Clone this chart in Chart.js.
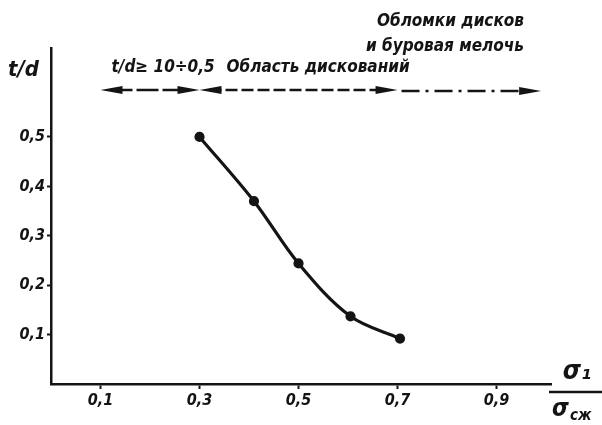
<!DOCTYPE html>
<html>
<head>
<meta charset="utf-8">
<script src="https://cdn.jsdelivr.net/npm/chart.js@4.4.1/dist/chart.umd.min.js"></script>
<style>
  html, body { margin: 0; padding: 0; background: #fff; }
  #wrap { width: 602px; height: 425px; }
</style>
</head>
<body>
<div id="wrap"><canvas id="myChart" width="602" height="425"></canvas></div>
<script>
//Data
const xTicks = [0.1, 0.3, 0.5, 0.7, 0.9];
const yTicks = [0.1, 0.2, 0.3, 0.4, 0.5];
const stressRatio = [0.30, 0.41, 0.50, 0.605, 0.705];   // σ1 / σсж
const tdRatio = [0.50, 0.37, 0.244, 0.137, 0.092];      // t/d
//Regions along the top arrow
const regionEdges = [0.1, 0.3, 0.7, 0.99];
const arrowLevel = 0.595;
const regionLabels = ['t/d≥ 10÷0,5', 'Область дискований', 'Обломки дисков', 'и буровая мелочь'];

const INK = '#141414';
const FONT = '"DejaVu Sans Condensed", "DejaVu Sans", sans-serif';

function commaNum(v) {
  return String(v).replace('.', ',');
}

function arrowHead(ctx, tipX, y, dir) {
  // dir = 1 points right, -1 points left
  ctx.beginPath();
  ctx.moveTo(tipX, y);
  ctx.lineTo(tipX - dir * 22, y - 4);
  ctx.lineTo(tipX - dir * 22, y + 4);
  ctx.closePath();
  ctx.fill();
}

//Arrows, region texts and axis titles
const annotations = {
  id: 'annotations',
  afterDraw(chart) {
    const {ctx, scales: {x, y}} = chart;
    const ay = y.getPixelForValue(arrowLevel);
    const px = regionEdges.map(v => x.getPixelForValue(v));
    ctx.save();
    ctx.strokeStyle = INK;
    ctx.fillStyle = INK;
    ctx.lineWidth = 2.5;

    // t/d >= ... region
    ctx.setLineDash([22, 4]);
    ctx.beginPath();
    ctx.moveTo(px[0] + 10, ay);
    ctx.lineTo(px[1] - 10, ay);
    ctx.stroke();
    arrowHead(ctx, px[0], ay, -1);
    arrowHead(ctx, px[1], ay, 1);
    arrowHead(ctx, px[1], ay, -1);

    // discing region
    ctx.setLineDash([12, 4]);
    ctx.beginPath();
    ctx.moveTo(px[1] + 10, ay);
    ctx.lineTo(px[2] - 10, ay);
    ctx.stroke();
    arrowHead(ctx, px[2], ay, 1);

    // fragments region
    ctx.setLineDash([18, 6, 3, 6]);
    ctx.beginPath();
    ctx.moveTo(px[2] + 4, ay + 1);
    ctx.lineTo(px[3] - 10, ay + 1);
    ctx.stroke();
    arrowHead(ctx, px[3], ay + 1, 1);
    ctx.setLineDash([]);

    // region texts
    ctx.font = 'italic bold 17px ' + FONT;
    ctx.textBaseline = 'middle';
    ctx.textAlign = 'left';
    ctx.fillText(regionLabels[0], px[0] + 11, ay - 22);
    ctx.fillText(regionLabels[1], px[1] + 27, ay - 22);
    ctx.textAlign = 'right';
    ctx.fillText(regionLabels[2], 524, 22);
    ctx.fillText(regionLabels[3], 524, 47);

    // y title
    ctx.textAlign = 'left';
    ctx.font = 'italic bold 22px ' + FONT;
    ctx.fillText('t/d', 8, 70);

    // x title as a fraction σ1 / σсж
    ctx.textAlign = 'center';
    ctx.font = 'italic bold 26px ' + FONT;
    ctx.fillText('σ₁', 577, 372);
    ctx.lineWidth = 2.5;
    ctx.beginPath();
    ctx.moveTo(549, 392);
    ctx.lineTo(602, 392);
    ctx.stroke();
    ctx.textAlign = 'left';
    ctx.font = 'italic bold 24px ' + FONT;
    ctx.fillText('σ', 552, 410);
    ctx.font = 'italic bold 15px ' + FONT;
    ctx.fillText('сж', 570, 416);
    ctx.restore();
  }
};

var myChart = new Chart('myChart', {
  type: 'scatter',
  data: {
    datasets: [{
      data: stressRatio.map((v, i) => ({x: v, y: tdRatio[i]})),
      showLine: true,
      borderColor: INK,
      borderWidth: 3.2,
      backgroundColor: INK,
      pointBackgroundColor: INK,
      pointBorderColor: INK,
      pointRadius: 3.5,
      tension: 0.35
    }]
  },
  options: {
    responsive: false,
    animation: false,
    layout: {
      padding: {top: 48, right: 51, left: 0, bottom: 0}
    },
    plugins: {
      legend: {display: false},
      tooltip: {enabled: false}
    },
    scales: {
      x: {
        type: 'linear',
        min: 0,
        max: 1.01,
        afterBuildTicks: s => { s.ticks = xTicks.map(v => ({value: v})); },
        afterFit: s => { s.height = 41; },
        ticks: {
          callback: v => commaNum(v),
          color: INK,
          font: {family: FONT, size: 16, style: 'italic', weight: 'bold'},
          padding: 2,
          maxRotation: 0,
          autoSkip: false
        },
        grid: {drawOnChartArea: false, tickLength: 5, tickColor: INK, tickWidth: 2},
        border: {color: INK, width: 2.5}
      },
      y: {
        type: 'linear',
        min: 0,
        max: 0.68,
        afterBuildTicks: s => { s.ticks = yTicks.map(v => ({value: v})); },
        afterFit: s => { s.width = 51; },
        ticks: {
          callback: v => commaNum(v),
          color: INK,
          font: {family: FONT, size: 16, style: 'italic', weight: 'bold'},
          padding: 2,
          autoSkip: false
        },
        grid: {drawOnChartArea: false, tickLength: 4, tickColor: INK, tickWidth: 2},
        border: {color: INK, width: 2.5}
      }
    }
  },
  plugins: [annotations]
});
</script>
</body>
</html>
